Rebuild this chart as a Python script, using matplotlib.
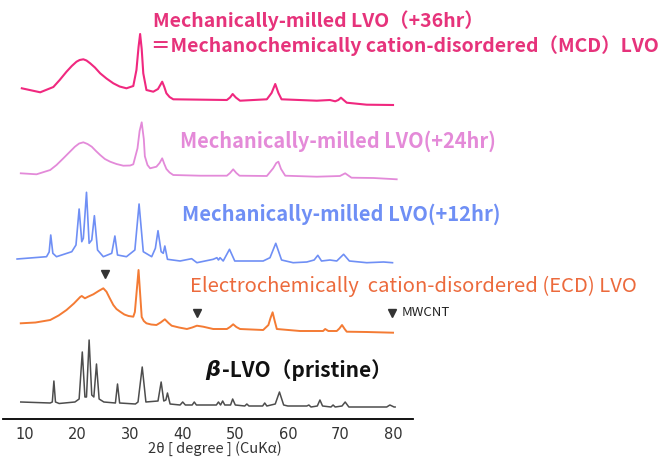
import numpy as np
import matplotlib.pyplot as plt

# 2theta (deg) and height above the axis
pristine_x = [9.2, 12, 14.8, 15.2, 15.5, 15.8, 16.5, 19.5, 20.3, 20.9, 21.4, 21.7, 22.2, 22.7,
              23.1, 23.6, 24.1, 25, 27.2, 27.6, 28.0, 31, 31.5, 32.3, 33, 35.3, 35.9, 36.4,
              36.8, 37.1, 37.6, 39.5, 40.0, 40.5, 41.8, 42.2, 42.6, 46.4, 46.8, 47.2, 47.6,
              48.0, 49.1, 49.5, 50, 51.8, 52.2, 52.6, 55.2, 55.6, 56, 57.6, 58.4, 59.2, 60,
              63.6, 64, 64.4, 65.6, 66.1, 66.6, 68.2, 68.6, 69, 70.3, 70.9, 71.6, 72.8, 78.8,
              79.4, 80.2, 80.4]
pristine_y = [17, 16.5, 16, 17, 38, 17, 15.5, 17, 20, 67, 22, 22, 79, 24,
              22, 55, 20, 17, 16, 35, 16, 15, 17, 52, 17, 18, 37, 18,
              19, 26, 15, 14, 17, 14, 14, 17, 14, 14, 17, 14, 18,
              14, 14, 20, 14, 13, 15, 13, 13, 16, 13, 15, 27, 14, 13,
              13, 14, 12, 13, 19, 13, 12, 14, 12, 13, 17, 12, 12, 12,
              14, 12, 12]

ecd_x = [9.2, 12.0, 14.8, 16.4, 17.9, 19.3, 20.5, 20.8, 21.4, 22.0, 23.0, 24.0, 24.9, 25.5,
         26.1, 26.8, 27.4, 28.1, 28.9, 29.7, 30.6, 30.9, 31.6, 32.2, 32.6, 33.1, 34.0, 35.0,
         35.8, 36.6, 37.3, 37.9, 39.3, 40.8, 41.8, 42.7, 43.9, 45.8, 48.4, 49.0, 49.6, 50.2,
         50.9, 55.3, 56.3, 56.7, 57.1, 57.5, 57.9, 62.3, 66.7, 67.1, 67.7, 69.3, 69.8, 70.3,
         70.8, 71.2, 75.0, 80.0]
ecd_y = [95.7, 96.5, 99, 103.5, 109, 115.5, 122, 123, 120.7, 122.3, 124.7, 128, 130.7, 127.3,
         121, 114, 110, 107.3, 104.5, 103, 102.3, 107, 149, 102, 98, 95.7, 94.5, 94,
         96.5, 99.7, 96, 93.3, 91.5, 90, 91.5, 93.3, 92.3, 90, 90, 92, 94.7, 92,
         90, 89, 94, 101, 106.7, 98, 90, 88, 88, 90, 88, 88, 90.5, 94,
         90, 87.3, 87, 86.3]

mm12_x = [8.5, 14.1, 14.6, 14.9, 15.3, 16.0, 18.9, 19.7, 20.3, 20.8, 21.1, 21.7, 22.2, 22.7,
          23.2, 23.8, 24.9, 26.5, 27.1, 27.6, 29.3, 30.9, 31.7, 32.5, 34.1, 34.8, 35.3, 35.9,
          36.3, 36.6, 37.1, 39.5, 41.7, 42.7, 45.8, 46.5, 46.8, 47.1, 47.7, 48.9, 49.9, 55.3,
          56.6, 57.7, 58.8, 61.0, 63.6, 65.0, 65.7, 66.4, 68.0, 69.3, 70.6, 71.7, 75.0, 78.2,
          79.9]
mm12_y = [160, 162.3, 167, 184, 165.7, 162.3, 167.3, 174, 210, 177.3, 180.7, 226.7, 175.7, 179,
          203.3, 169, 162.3, 165.7, 183, 164, 162.3, 169, 215, 167.3, 162.3, 170.7, 188.3, 167.3,
          165.7, 173, 159.7, 158, 160.3, 156.3, 159.7, 161.3, 159, 161.3, 158, 169.7, 158, 158,
          161.3, 175.7, 159, 156.3, 157, 159, 163.7, 158, 159, 158, 164.7, 158, 156.3, 157,
          156.3]

mm24_x = [9.2, 12.2, 14.8, 16.0, 17.3, 18.4, 19.5, 20.3, 21.1, 21.9, 22.7, 23.5, 24.3, 25.2,
          26.2, 27.4, 28.7, 30.0, 30.6, 31.4, 31.8, 32.2, 32.6, 32.8, 33.3, 33.8, 35.0, 35.6,
          36.1, 36.5, 36.9, 37.5, 38.2, 43.3, 48.4, 49.0, 49.6, 50.2, 50.8, 56.0, 57.2, 57.8,
          58.2, 58.7, 59.5, 65.5, 69.9, 70.9, 72.1, 76.3, 80.7]
mm24_y = [245.7, 244.7, 249, 254, 260.7, 266.5, 272.3, 275.5, 276.7, 275, 272.3, 268, 264, 260,
          257.3, 255, 253.3, 253.5, 254.7, 270.7, 288, 296.7, 280, 262.7, 254, 250.7, 252.3, 256,
          260.7, 255, 250, 246.5, 244, 243.3, 243.3, 246, 249.7, 246, 243.3, 243, 250.7, 256,
          257.3, 250, 243.3, 242.3, 243, 245.7, 241.3, 241, 239.7]

mm36_x = [9.4, 12.9, 15.4, 16.6, 17.9, 18.9, 19.8, 20.4, 21.1, 21.7, 22.4, 23.3, 24.3, 25.5,
          26.8, 28.0, 29.3, 30.6, 31.2, 31.6, 31.9, 32.2, 32.5, 33.1, 34.4, 35.3, 36.1, 36.5,
          36.9, 37.5, 38.2, 48.4, 49.0, 49.5, 50.1, 50.9, 56.0, 56.9, 57.6, 58.2, 58.8, 65.5,
          68.0, 69.0, 69.6, 70.1, 70.6, 71.2, 75.0, 80.0]
mm36_y = [330.7, 326.7, 332, 339, 347.3, 353, 357.3, 359, 359.7, 358.5, 355.7, 351.5, 345.7, 340.5,
          335.7, 332.5, 330.7, 333, 349, 372, 385, 370, 345.7, 329, 327.3, 330, 337.3, 332,
          325.7, 322, 319.7, 319, 321.5, 325, 321.5, 318.3, 319.7, 326, 335, 326, 319.7, 318.3,
          319, 317.7, 319, 321.3, 319, 316.3, 314.3, 314]

# MWCNT reflections marked on the ECD pattern
cnt_x = [25.3, 42.7, 79.8]
cnt_y = [145, 106, 106]

ticks = [10, 20, 30, 40, 50, 60, 70, 80]

fig = plt.figure(figsize=(6.68, 4.59), dpi=100)
ax = fig.add_axes([3/668, 40/459, 410/668, 419/459])

ax.plot(pristine_x, pristine_y, color='#4d4d4d', lw=1.1)
ax.plot(ecd_x, ecd_y, color='#f47b34', lw=1.4)
ax.plot(mm12_x, mm12_y, color='#6f8ff5', lw=1.2)
ax.plot(mm24_x, mm24_y, color='#e38ad9', lw=1.3)
ax.plot(mm36_x, mm36_y, color='#f0287f', lw=1.5)
ax.plot(cnt_x, cnt_y, linestyle='none', marker='v', color='#333333', markersize=6)

ax.set_xlim(5.82, 83.8)
ax.set_ylim(0, 419)
ax.set_xticks(ticks)
ax.set_yticks([])
ax.tick_params(axis='x', length=0, pad=6, labelsize=10.5, labelcolor='#333333')
for s in ['left', 'right', 'top']:
    ax.spines[s].set_visible(False)
ax.spines['bottom'].set_linewidth(1.3)

fam = ['Noto Sans CJK JP', 'DejaVu Sans']


def ptext(x, y, s, **kw):
    fig.text(x/668, 1 - y/459, s, va='center', **kw)


ptext(215, 449, '2θ [ degree ] (CuKα)', ha='center', color='#333333', fontsize=10.5,
      family=fam)
ptext(153, 21, 'Mechanically-milled LVO（+36hr）', ha='left', color='#e6337b', fontsize=14,
      fontweight='bold', family=fam)
ptext(151, 46, '＝Mechanochemically cation-disordered（MCD）LVO', ha='left', color='#e6337b',
      fontsize=14, fontweight='bold', family=fam)
ptext(180, 141, 'Mechanically-milled LVO(+24hr)', ha='left', color='#e48ad8', fontsize=14.4,
      fontweight='bold', family=fam)
ptext(182, 214, 'Mechanically-milled LVO(+12hr)', ha='left', color='#6f8ff5', fontsize=14.5,
      fontweight='bold', family=fam)
ptext(190, 286, 'Electrochemically  cation-disordered (ECD) LVO', ha='left', color='#ec6a3c',
      fontsize=14.6, family=fam)
ptext(402, 313, 'MWCNT', ha='left', color='#222222', fontsize=9.5, family=fam)
ptext(205, 370, r'$\boldsymbol{\beta}$', ha='left', color='#111111', fontsize=15, family=fam)
ptext(222, 370, '-LVO（pristine）', ha='left', color='#111111', fontsize=15, fontweight='bold',
      family=fam)

fig.savefig('out.png', dpi=100)
